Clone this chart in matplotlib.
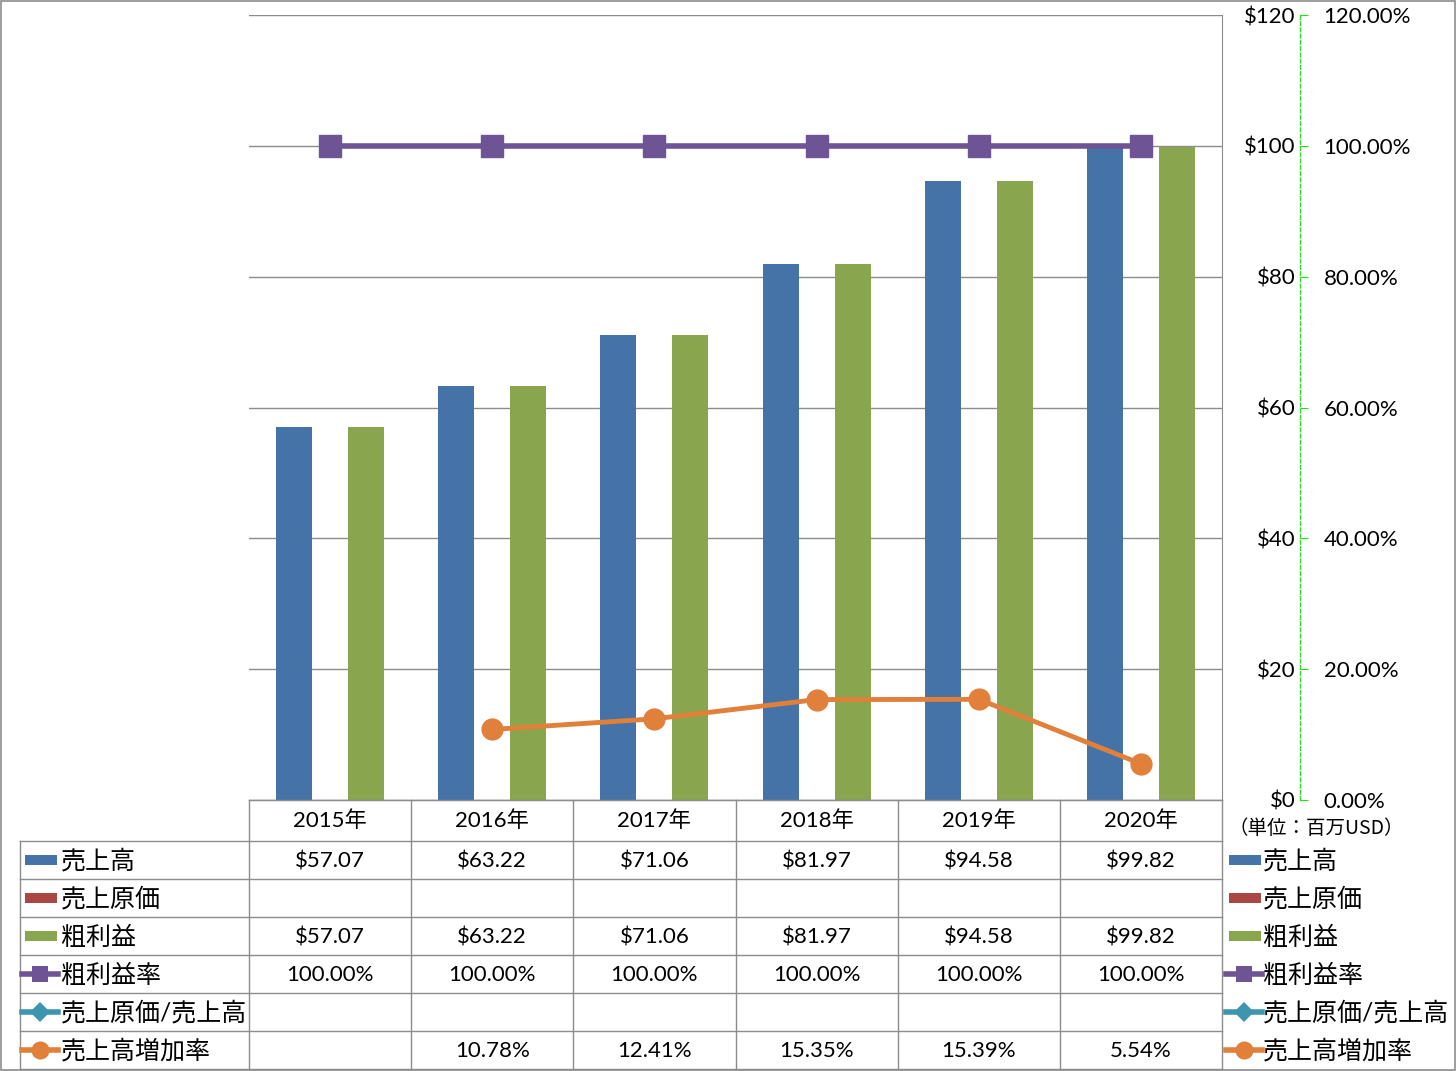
import numpy as np
import matplotlib
matplotlib.use("Agg")
import matplotlib.pyplot as plt
from matplotlib.patches import Rectangle
from matplotlib.lines import Line2D

plt.rcParams['font.family'] = ['Lato', 'Noto Sans CJK JP']

# data
years = ['2015年', '2016年', '2017年', '2018年', '2019年', '2020年']
sales = [57.07, 63.22, 71.06, 81.97, 94.58, 99.82]
cost = [None, None, None, None, None, None]
gross = [57.07, 63.22, 71.06, 81.97, 94.58, 99.82]
gross_rate = [1.0, 1.0, 1.0, 1.0, 1.0, 1.0]
cost_ratio = [None, None, None, None, None, None]
growth = [None, 0.1078, 0.1241, 0.1535, 0.1539, 0.0554]
series_names = ['売上高', '売上原価', '粗利益', '粗利益率', '売上原価/売上高', '売上高増加率']
dollar_ticks = [0, 20, 40, 60, 80, 100, 120]

c_blue = '#4572a7'
c_red = '#aa4643'
c_green = '#89a54e'
c_purple = '#6f5495'
c_teal = '#3d96ae'
c_orange = '#e0803a'
grid_c = '#8c8c8c'

W, H = 1456, 1071
fig = plt.figure(figsize=(W / 100, H / 100), dpi=100)

# plot area in pixels
px0, px1, py0, py1 = 249, 1222, 15, 800
ax = fig.add_axes([px0 / W, 1 - py1 / H, (px1 - px0) / W, (py1 - py0) / H])
ax.set_xlim(-0.5, 5.5)
ax.set_ylim(0, 120)
x = np.arange(len(years))
bw = 0.222

ax.bar(x - bw, sales, width=bw, color=c_blue, zorder=2)
cost_vals = [v if v is not None else 0 for v in cost]
ax.bar(x, cost_vals, width=bw, color=c_red, zorder=2)
ax.bar(x + bw, gross, width=bw, color=c_green, zorder=2)

ax.set_yticks(dollar_ticks)
ax.set_yticklabels(['$%d' % v for v in dollar_ticks])
ax.yaxis.grid(True, color=grid_c, lw=1, zorder=0)
ax.set_axisbelow(True)
ax.set_xticks([])
ax.spines['top'].set_visible(False)
ax.spines['bottom'].set_color(grid_c)
ax.spines['right'].set_color(grid_c)
ax.spines['left'].set_position(('axes', (1300 - px0) / (px1 - px0)))
ax.spines['left'].set_color('#22dd22')
ax.spines['left'].set_linestyle((0, (3, 2)))
ax.spines['left'].set_linewidth(0.9)
ax.tick_params(axis='y', direction='in', length=6, color='#22dd22', pad=3, labelsize=16)

ax2 = ax.twinx()
ax2.set_ylim(0, 1.2)
ax2.set_yticks([v / 100 for v in dollar_ticks])
ax2.set_yticklabels(['%.2f%%' % v for v in dollar_ticks])
for s in ax2.spines.values():
    s.set_visible(False)
ax2.spines['right'].set_position(('axes', (1300 - px0) / (px1 - px0)))
ax2.tick_params(axis='y', length=0, pad=17, labelsize=16)

gr = np.array([v if v is not None else np.nan for v in growth])
ax2.plot(x, gross_rate, color=c_purple, lw=4, marker='s', markersize=16, zorder=4)
ax2.plot(x, gr, color=c_orange, lw=3.5, marker='o', markersize=15, zorder=4)

# overlay for table, legend and frame (pixel coordinates)
ov = fig.add_axes([0, 0, 1, 1], zorder=5)
ov.set_xlim(0, W)
ov.set_ylim(H, 0)
ov.axis('off')
ov.patch.set_alpha(0)

col_w = (px1 - px0) / len(years)
row_top = [841 + 38 * k for k in range(7)]
# table lines
ov.plot([px0, px1], [800, 800], color=grid_c, lw=1)
for yy in row_top:
    ov.plot([20, px1], [yy, yy], color=grid_c, lw=1)
for i in range(len(years) + 1):
    xx = px0 + col_w * i
    ov.plot([xx, xx], [800, row_top[-1]], color=grid_c, lw=1)
ov.plot([20, 20], [row_top[0], row_top[-1]], color=grid_c, lw=1)

for i, yr in enumerate(years):
    ov.text(px0 + col_w * (i + 0.5), 821, yr, ha='center', va='center', fontsize=16)

rows = [
    ['$%.2f' % v if v is not None else '' for v in sales],
    ['$%.2f' % v if v is not None else '' for v in cost],
    ['$%.2f' % v if v is not None else '' for v in gross],
    ['%.2f%%' % (v * 100) if v is not None else '' for v in gross_rate],
    ['%.2f%%' % (v * 100) if v is not None else '' for v in cost_ratio],
    ['%.2f%%' % (v * 100) if v is not None else '' for v in growth],
]
for k, r in enumerate(rows):
    yc = row_top[k] + 19
    for i, t in enumerate(r):
        ov.text(px0 + col_w * (i + 0.5), yc + 1, t, ha='center', va='center', fontsize=16)

kinds = [('bar', c_blue, None), ('bar', c_red, None), ('bar', c_green, None),
         ('line', c_purple, 's'), ('line', c_teal, 'D'), ('line', c_orange, 'o')]


def legend_key(x0, yc, kind, color, mk):
    if kind == 'bar':
        ov.add_patch(Rectangle((x0 + 3, yc - 5), 32, 10, color=color, lw=0))
    else:
        ov.add_line(Line2D([x0, x0 + 36], [yc, yc], color=color, lw=4))
        ov.plot([x0 + 18], [yc], marker=mk, color=color,
                markersize={'s': 12, 'D': 10, 'o': 13}[mk], markeredgewidth=0)


for k, (name, (kind, color, mk)) in enumerate(zip(series_names, kinds)):
    yc = row_top[k] + 19
    legend_key(22, yc, kind, color, mk)
    ov.text(61, yc + 1, name, ha='left', va='center', fontsize=18)
    legend_key(1226, yc, kind, color, mk)
    ov.text(1263, yc + 1, name, ha='left', va='center', fontsize=18)

ov.text(1316, 828, '（単位：百万USD）', ha='center', va='center', fontsize=14,
        family='Noto Sans CJK JP')

# outer frame
ov.add_patch(Rectangle((0.5, 0.5), W - 1.5, H - 1.5, fill=False, edgecolor=grid_c, lw=1.2))

fig.savefig('out.png', dpi=100)
